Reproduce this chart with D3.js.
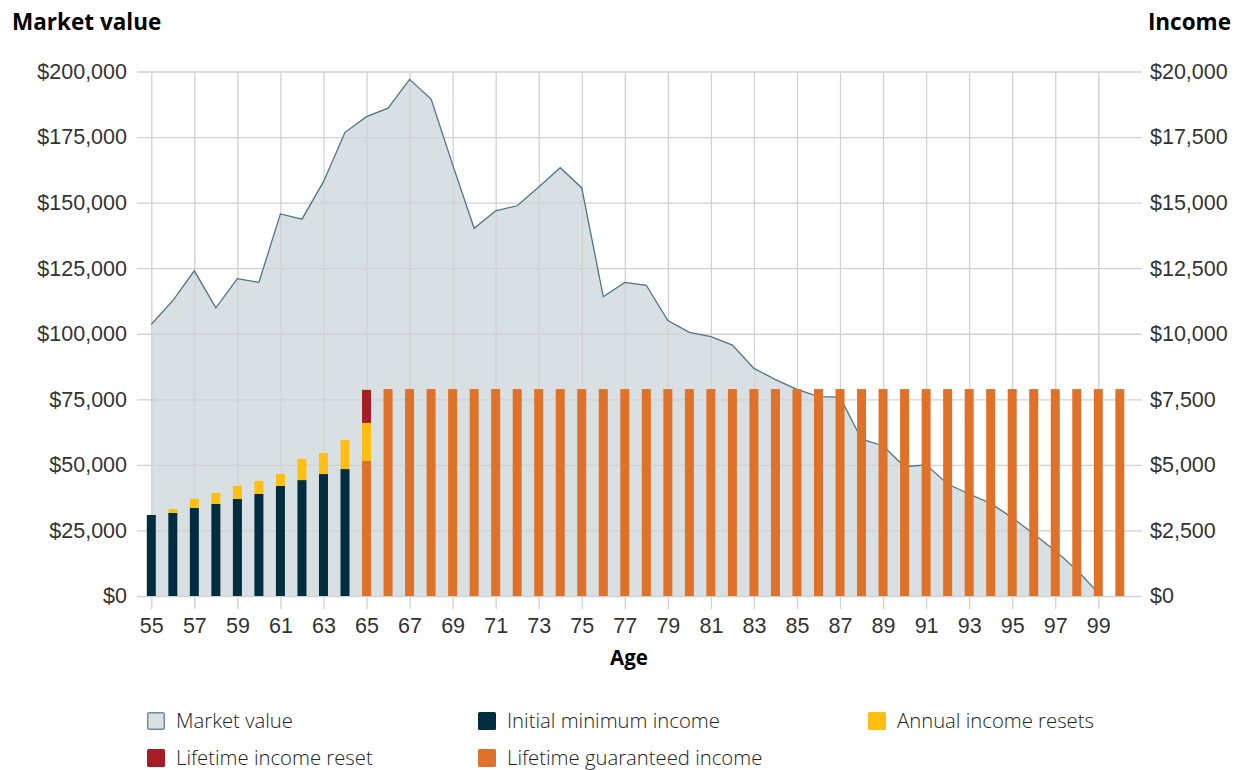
<!DOCTYPE html>
<html>
<head>
<meta charset="utf-8">
<script src="https://cdn.jsdelivr.net/npm/d3@7"></script>
<style>
  html, body { margin: 0; padding: 0; background: #fff; }
  svg { display: block; font-family: "Open Sans", "Noto Sans", sans-serif; }
</style>
</head>
<body>
<svg id="chart" width="1235" height="770"></svg>
<script>
// ---------- DATA ----------
const ages = [55,56,57,58,59,60,61,62,63,64,65,66,67,68,69,70,71,72,73,74,75,76,77,78,79,80,
              81,82,83,84,85,86,87,88,89,90,91,92,93,94,95,96,97,98,99,100];
const marketAges = [55,56,57,58,59,60,61,62,63,64,65,66,67,68,69,70,71,72,73,74,75,76,77,
                    78,79,80,81,82,83,84,85,86,87,88,89,90,91,92,93,94,95,96,97,98,99];
const marketValue = [103600,112600,124000,109900,121000,119600,145700,143700,158000,176800,
                     182800,186000,197000,189500,164500,140200,146900,148800,156000,163300,
                     155600,114100,119600,118500,105000,100500,98900,95700,86800,82500,
                     78800,76000,75800,59800,57300,49300,50000,42700,38900,35300,
                     29900,23600,17300,9900,1200];
const initialIncome = [3090,3170,3360,3510,3700,3890,4200,4420,4650,4840,
                       0,0,0,0,0,0,0,0,0,0,0,0,0,0,0,0,0,0,0,0,0,0,0,0,0,0,0,0,0,0,0,0,0,0,0,0];
const annualResets  = [0,150,340,420,500,500,450,810,800,1110,
                       1450,0,0,0,0,0,0,0,0,0,0,0,0,0,0,0,0,0,0,0,0,0,0,0,0,0,0,0,0,0,0,0,0,0,0,0];
const lifetimeReset = [0,0,0,0,0,0,0,0,0,0,
                       1260,0,0,0,0,0,0,0,0,0,0,0,0,0,0,0,0,0,0,0,0,0,0,0,0,0,0,0,0,0,0,0,0,0,0,0];
const guaranteed    = [0,0,0,0,0,0,0,0,0,0,
                       5150,7890,7890,7890,7890,7890,7890,7890,7890,7890,7890,7890,7890,7890,7890,7890,
                       7890,7890,7890,7890,7890,7890,7890,7890,7890,7890,7890,7890,7890,7890,7890,7890,
                       7890,7890,7890,7890];
const ageTicks = [55,57,59,61,63,65,67,69,71,73,75,77,79,81,83,85,87,89,91,93,95,97,99];
const leftTicks = [0,25000,50000,75000,100000,125000,150000,175000,200000];
const rightTicks = [0,2500,5000,7500,10000,12500,15000,17500,20000];
const seriesKeys = ["guaranteed","initial","annual","reset"];
const seriesColors = {initial:"#022d3e", annual:"#ffbf12", reset:"#a81d25", guaranteed:"#e07129"};
const legendItems = [
  {label:"Market value", color:"#d9e0e4", stroke:"#6f8e9c"},
  {label:"Initial minimum income", color:"#022d3e"},
  {label:"Annual income resets", color:"#ffbf12"},
  {label:"Lifetime income reset", color:"#a81d25"},
  {label:"Lifetime guaranteed income", color:"#e07129"}
];

// ---------- LAYOUT ----------
const svg = d3.select("#chart");
const plotLeft = 137, plotRight = 1142, plotTop = 71.5, plotBottom = 596;

const x = d3.scaleLinear().domain([55, 99]).range([151.3, 1098.3]);
const yL = d3.scaleLinear().domain([0, 200000]).range([plotBottom, plotTop]);
const yR = d3.scaleLinear().domain([0, 20000]).range([plotBottom, plotTop]);

const gridColor = "#d2d2d2";
const labelColor = "#333";
const tickFont = "21.5px";

// area
const mvData = marketAges.map((a, i) => ({age: a, v: marketValue[i]}));
svg.append("path")
  .datum(mvData)
  .attr("fill", "#d9e0e4")
  .attr("d", d3.area().x(d => x(d.age)).y0(yL(0)).y1(d => yL(d.v)));

// left axis with horizontal gridlines
const gL = svg.append("g").attr("transform", `translate(${plotRight},0)`)
  .call(d3.axisLeft(yL).tickValues(leftTicks).tickSize(plotRight - plotLeft).tickPadding(10)
        .tickFormat(d => "$" + d3.format(",")(d)));
gL.select(".domain").remove();
gL.selectAll(".tick line").attr("stroke", gridColor).attr("stroke-width", 1.3);
gL.selectAll(".tick text").attr("fill", labelColor).style("font-size", tickFont).style("font-weight", 300);

// bottom axis with vertical gridlines
const gB = svg.append("g").attr("transform", `translate(0,${plotTop})`)
  .call(d3.axisBottom(x).tickValues(ageTicks).tickSize(609 - plotTop).tickPadding(9)
        .tickFormat(d3.format("d")));
gB.select(".domain").remove();
gB.selectAll(".tick line").attr("stroke", gridColor).attr("stroke-width", 1.3);
gB.selectAll(".tick text").attr("fill", labelColor).style("font-size", tickFont).style("font-weight", 300);

// right axis
const gR = svg.append("g").attr("transform", `translate(${plotRight},0)`)
  .call(d3.axisRight(yR).tickValues(rightTicks).tickSize(0).tickPadding(8)
        .tickFormat(d => "$" + d3.format(",")(d)));
gR.select(".domain").remove();
gR.selectAll(".tick text").attr("fill", labelColor).style("font-size", tickFont).style("font-weight", 300);

// market value line
svg.append("path")
  .datum(mvData)
  .attr("fill", "none")
  .attr("stroke", "#4e7587")
  .attr("stroke-width", 1.3)
  .attr("d", d3.line().x(d => x(d.age)).y(d => yL(d.v)));

// stacked bars
const rows = ages.map((a, i) => ({age: a, initial: initialIncome[i], annual: annualResets[i],
                                  reset: lifetimeReset[i], guaranteed: guaranteed[i]}));
const stacked = d3.stack().keys(seriesKeys)(rows);
const barW = 9;
svg.append("g").selectAll("g").data(stacked).join("g")
  .attr("fill", s => seriesColors[s.key])
  .selectAll("rect").data(s => s.filter(d => d[1] > d[0])).join("rect")
  .attr("x", d => x(d.data.age) - barW / 2)
  .attr("width", barW)
  .attr("y", d => yR(d[1]))
  .attr("height", d => yR(d[0]) - yR(d[1]));

// titles
svg.append("text").attr("x", 12).attr("y", 30).text("Market value")
  .style("font-size", "22.5px").style("font-weight", 700).attr("fill", "#000");
svg.append("text").attr("x", 1231).attr("y", 30).attr("text-anchor", "end").text("Income")
  .style("font-size", "22.5px").style("font-weight", 700).attr("fill", "#000");
svg.append("text").attr("x", 629).attr("y", 665).attr("text-anchor", "middle").text("Age")
  .style("font-size", "20.5px").style("font-weight", 700).attr("fill", "#000");

// legend
const legendPos = [[147,712],[478,712],[868,712],[147,749],[478,749]];
const lg = svg.append("g").selectAll("g").data(legendItems).join("g")
  .attr("transform", (d, i) => `translate(${legendPos[i][0]},${legendPos[i][1]})`);
lg.append("rect")
  .attr("x", d => d.stroke ? 0.75 : 0).attr("y", d => d.stroke ? 0.75 : 0)
  .attr("width", d => d.stroke ? 16.5 : 18).attr("height", d => d.stroke ? 16.5 : 18)
  .attr("rx", 1.5)
  .attr("fill", d => d.color)
  .attr("stroke", d => d.stroke || "none").attr("stroke-width", 1.5);
lg.append("text").attr("x", 29).attr("y", 16).text(d => d.label)
  .style("font-size", "20.3px").style("font-weight", 300).attr("fill", "#222");
</script>
</body>
</html>
